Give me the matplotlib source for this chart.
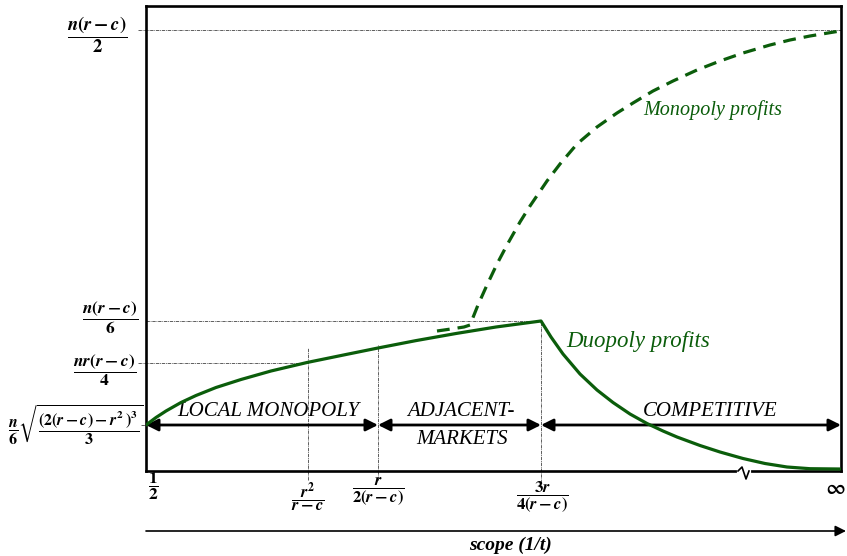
import numpy as np
import matplotlib
matplotlib.use("Agg")
import matplotlib.pyplot as plt

plt.rcParams['mathtext.fontset'] = 'custom'
plt.rcParams['mathtext.rm'] = 'STIXGeneral:bold'
plt.rcParams['mathtext.it'] = 'STIXGeneral:italic:bold'
plt.rcParams['mathtext.bf'] = 'STIXGeneral:bold'
plt.rcParams['mathtext.fallback'] = 'stix'

GREEN = '#0b5d0b'
SERIF = 'Liberation Serif'

# scope axis: key thresholds (1/2, r^2/(r-c), r/2(r-c), 3r/4(r-c), infinity)
x_ticks = [0, 162, 232, 395, 695]
x_labels = [r'$\dfrac{1}{2}$', r'$\dfrac{r^2}{r-c}$', r'$\dfrac{r}{2(r-c)}$',
            r'$\dfrac{3r}{4(r-c)}$', r'$\infty$']

# profit levels on the vertical axis
y_levels = [46, 108, 150, 441]
y_labels = [r'$\dfrac{n}{6}\sqrt{\dfrac{(2(r-c)-r^2\,)^3}{3}}$',
            r'$\dfrac{nr(r-c)}{4}$', r'$\dfrac{n(r-c)}{6}$', r'$\dfrac{n(r-c)}{2}$']

# duopoly profits (rising part up to 3r/4(r-c), then falling)
duo_x = [0, 10, 20, 35, 50, 70, 95, 125, 161, 200, 232, 270, 310, 350, 395,
         405, 417, 434, 451, 467, 484, 501, 517, 531, 554, 574, 597, 619, 641,
         664, 694]
duo_y = [46, 53.5, 60, 68.5, 75.5, 83.5, 91.5, 100, 108.5, 116.5, 123, 130.4,
         137.5, 144, 150,
         134, 117, 97, 81, 68.5, 57, 47.5, 40, 34, 25.5, 19, 12.5, 7.5, 4,
         2.3, 2]

# monopoly profits
mono_x = [291, 305, 318, 324, 332, 341, 351, 361, 374, 384, 401, 414, 431,
          451, 471, 487, 507, 527, 551, 574, 597, 624, 644, 664, 694]
mono_y = [140, 142, 144, 146, 166, 186, 207, 226, 249, 265, 290, 307, 327,
          344, 358, 368, 380, 390, 401, 410, 418, 426, 431, 435, 440]

# market regimes along the scope axis (name, start, end, label centre)
regimes = [('LOCAL MONOPOLY', 0, 232, 122), ('ADJACENT-\nMARKETS', 232, 395, 315),
           ('COMPETITIVE', 395, 695, 564)]

fig = plt.figure(figsize=(8.47, 5.56), dpi=100)
ax = fig.add_axes([146 / 847, 85 / 556, 695 / 847, 465 / 556])
ax.set_xlim(0, 695)
ax.set_ylim(0, 465)
ax.set_xticks([])
ax.set_yticks([])
for s in ax.spines.values():
    s.set_linewidth(1.9)

# dotted guide lines
guide = dict(color='#444444', lw=0.6, ls=(0, (4, 1, 1, 1)), clip_on=False, zorder=1)
ax.plot([-8, 695], [y_levels[3]] * 2, **guide)
ax.plot([0, x_ticks[3]], [y_levels[2]] * 2, **guide)
ax.plot([-8, x_ticks[1]], [y_levels[1]] * 2, **guide)
ax.plot([-5, 0], [y_levels[0]] * 2, **guide)
ax.plot([x_ticks[1]] * 2, [-9, 123], **guide)
ax.plot([x_ticks[2]] * 2, [-9, 126], **guide)
ax.plot([x_ticks[3]] * 2, [-12, y_levels[2]], **guide)

# profit curves
ax.plot(duo_x, duo_y, color=GREEN, lw=2.3, solid_joinstyle='round',
        solid_capstyle='round', zorder=4)
ax.plot(mono_x, mono_y, color=GREEN, lw=2.3, ls=(0, (4, 2.5)),
        dash_joinstyle='round', zorder=4)

ax.text(420, 130, 'Duopoly profits', color=GREEN, fontsize=16.5, family=SERIF,
        style='italic', va='center')
ax.text(497, 361, 'Monopoly profits', color=GREEN, fontsize=14.5, family=SERIF,
        style='italic', va='center')

# regime arrows
for name, x0, x1, xc in regimes:
    ax.annotate('', xy=(x1, y_levels[0]), xytext=(x0, y_levels[0]),
                arrowprops=dict(arrowstyle='<|-|>', color='black', lw=2,
                                mutation_scale=18, shrinkA=0, shrinkB=0),
                zorder=3)
    lines = name.split('\n')
    ax.text(xc, y_levels[0] + 13, lines[0], ha='center', va='center',
            fontsize=15, family=SERIF, style='italic')
    if len(lines) > 1:
        ax.text(xc + 1, y_levels[0] - 14, lines[1], ha='center',
                va='center', fontsize=15, family=SERIF, style='italic')

# axis break on the scope axis
ax.plot([593, 603], [0, 0], color='white', lw=3, clip_on=False, zorder=5)
ax.plot([592, 596, 600, 603], [0, 4, -8, 0], color='black', lw=1.2,
        clip_on=False, zorder=6)

# tick labels under the scope axis
tick_y = [-15, -26, -20, -26, -17]
tick_dx = [7, 0, 0, 1, -6]
tick_fs = [12.5, 12, 12, 12, 15]
for xv, lab, ty, dx, fs in zip(x_ticks, x_labels, tick_y, tick_dx, tick_fs):
    ax.text(xv + dx, ty, lab, ha='center', va='center', fontsize=fs,
            clip_on=False)

# profit level labels
level_x = [-70, -41, -36, -49]
level_y = [46, 101, 153, 436]
level_fs = [11.5, 12.5, 12.5, 13.5]
for lab, lx, ly, fs in zip(y_labels, level_x, level_y, level_fs):
    ax.text(lx, ly, lab, ha='center', va='center', fontsize=fs, clip_on=False)

# scope arrow below the axis
ax.annotate('', xy=(700, -60), xytext=(0, -60), annotation_clip=False,
            arrowprops=dict(arrowstyle='-|>', color='black', lw=1.2,
                            mutation_scale=16, shrinkA=0, shrinkB=0))
ax.text(364, -74, 'scope (1/t)', ha='center', va='center', fontsize=14,
        family=SERIF, style='italic', weight='bold')

fig.savefig('out.png', dpi=100)
